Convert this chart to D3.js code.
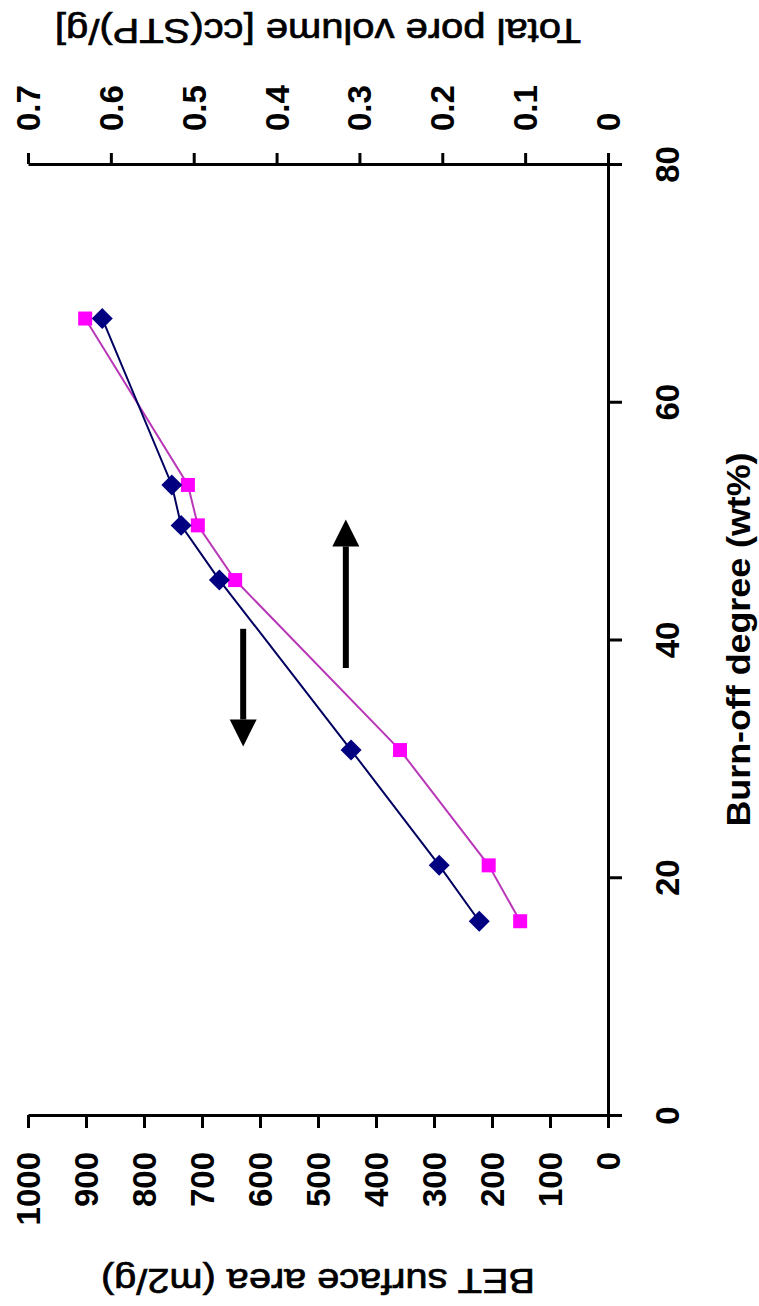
<!DOCTYPE html>
<html>
<head>
<meta charset="utf-8">
<script src="https://cdn.jsdelivr.net/npm/d3@7"></script>
<style>
  body { margin: 0; background: #fff; }
  svg { display: block; font-family: "Liberation Sans", Arial, sans-serif; }
</style>
</head>
<body>
<svg width="759" height="1306"></svg>
<script>
// the chart is printed a quarter turn round: burn-off runs up the page,
// BET area and pore volume run from right (0) to left
const burnOff = [16.3, 21.0, 30.7, 45.0, 49.6, 53.0, 67.0];
const betArea = [222, 291, 443, 670, 736, 752, 872];
const poreVolume = [0.106, 0.144, 0.251, 0.450, 0.495, 0.507, 0.631];

const burnTicks = [0, 20, 40, 60, 80];
const betTicks = [0, 100, 200, 300, 400, 500, 600, 700, 800, 900, 1000];
const poreTicks = [0, 0.1, 0.2, 0.3, 0.4, 0.5, 0.6, 0.7];

// the two arrows: BET position, burn-off from -> to
const arrowBet = [629, 452];
const arrowFrom = [40.9, 37.6];
const arrowTo = [31.0, 50.1];

const svg = d3.select("svg");

const area = {
    left: 28,     // BET 1000 / pore 0.7
    right: 608,   // value 0, burn-off axis line
    top: 164,     // burn-off 80, pore axis line
    bottom: 1115  // burn-off 0, BET axis line
};

const scBurn = d3.scaleLinear().domain([0, 80]).range([area.bottom, area.top]);
const scBet = d3.scaleLinear().domain([0, 1000]).range([area.right, area.left]);
const scPore = d3.scaleLinear().domain([0, 0.7]).range([area.right, area.left]);

function styleAxis(g) {
    g.selectAll("path, line").attr("stroke", "#000").attr("stroke-width", 3);
    g.selectAll("text")
        .attr("fill", "#000")
        .style("font-size", "33px")
        .style("font-weight", "bold")
        .style("font-family", "'Liberation Sans', Arial, sans-serif");
}

function drawAxes() {
    // burn-off axis (vertical, on the right)
    const gBurn = svg.append("g")
        .attr("transform", `translate(${area.right},0)`)
        .call(d3.axisRight(scBurn).tickValues(burnTicks).tickSize(14).tickSizeOuter(0));
    gBurn.selectAll("text")
        .attr("x", 0).attr("y", 0).attr("dy", 0)
        .attr("text-anchor", "middle")
        .attr("transform", "translate(71,0) rotate(-90)");
    styleAxis(gBurn);

    // BET axis along the bottom
    const gBet = svg.append("g")
        .attr("transform", `translate(0,${area.bottom})`)
        .call(d3.axisBottom(scBet).tickValues(betTicks).tickSize(13).tickSizeOuter(0)
            .tickFormat(d3.format("d")));
    gBet.selectAll("text")
        .attr("x", 0).attr("y", 0).attr("dy", "0.35em")
        .attr("text-anchor", "end")
        .attr("transform", "translate(0,37) rotate(-90)");
    styleAxis(gBet);

    // pore volume axis along the top
    const gPore = svg.append("g")
        .attr("transform", `translate(0,${area.top})`)
        .call(d3.axisTop(scPore).tickValues(poreTicks).tickSize(11).tickSizeOuter(0)
            .tickFormat(d => d === 0 ? "0" : d3.format(".1f")(d)));
    gPore.selectAll("text")
        .attr("x", 0).attr("y", 0).attr("dy", "0.35em")
        .attr("text-anchor", "start")
        .attr("transform", "translate(0,-33) rotate(-90)");
    styleAxis(gPore);

    // axis titles
    svg.append("text")
        .attr("transform", `translate(${(area.left + area.right) / 2},1281) rotate(180)`)
        .attr("text-anchor", "middle")
        .attr("dy", "0.35em")
        .style("font-size", "35px")
        .attr("stroke", "#000")
        .attr("stroke-width", 0.7)
        .attr("textLength", 434)
        .attr("lengthAdjust", "spacingAndGlyphs")
        .text("BET surface area (m2/g)");

    svg.append("text")
        .attr("transform", `translate(${(area.left + area.right) / 2},31) rotate(180)`)
        .attr("text-anchor", "middle")
        .attr("dy", "0.35em")
        .style("font-size", "35px")
        .attr("stroke", "#000")
        .attr("stroke-width", 0.7)
        .attr("textLength", 526)
        .attr("lengthAdjust", "spacingAndGlyphs")
        .text("Total pore volume [cc(STP)/g]");

    svg.append("text")
        .attr("transform", `translate(738,${(area.top + area.bottom) / 2}) rotate(-90)`)
        .attr("text-anchor", "middle")
        .attr("dy", "0.35em")
        .style("font-size", "33px")
        .style("font-weight", "bold")
        .attr("textLength", 374)
        .attr("lengthAdjust", "spacingAndGlyphs")
        .text("Burn-off degree (wt%)");
}

function drawSeries(values, scale, color, lineColor, symbol, size, rotate) {
    const pts = burnOff.map((b, i) => ({b: b, v: values[i]}));
    const line = d3.line().x(d => scale(d.v)).y(d => scBurn(d.b));

    svg.append("path")
        .datum(pts)
        .attr("d", line)
        .attr("fill", "none")
        .attr("stroke", lineColor)
        .attr("stroke-width", 2);

    svg.selectAll(null)
        .data(pts)
        .enter()
        .append("path")
        .attr("d", d3.symbol(symbol, size))
        .attr("transform", d => `translate(${scale(d.v)},${scBurn(d.b)}) rotate(${rotate})`)
        .style("fill", color);
}

function drawArrows() {
    const head = 27;
    for (let i = 0; i < arrowBet.length; i++) {
        const x = scBet(arrowBet[i]);
        const y1 = scBurn(arrowFrom[i]);
        const y2 = scBurn(arrowTo[i]);
        const dir = y2 > y1 ? 1 : -1;
        svg.append("line")
            .attr("x1", x).attr("x2", x)
            .attr("y1", y1).attr("y2", y2 - dir * head)
            .attr("stroke", "#000")
            .attr("stroke-width", 6);
        svg.append("path")
            .attr("d", `M${x},${y2} L${x - head / 2},${y2 - dir * head} L${x + head / 2},${y2 - dir * head} Z`)
            .style("fill", "#000");
    }
}

drawAxes();
drawSeries(poreVolume, scPore, "#ff00ff", "#b838b8", d3.symbolSquare, 196, 0);
drawSeries(betArea, scBet, "#000080", "#000060", d3.symbolSquare, 220, 45);
drawArrows();
</script>
</body>
</html>
